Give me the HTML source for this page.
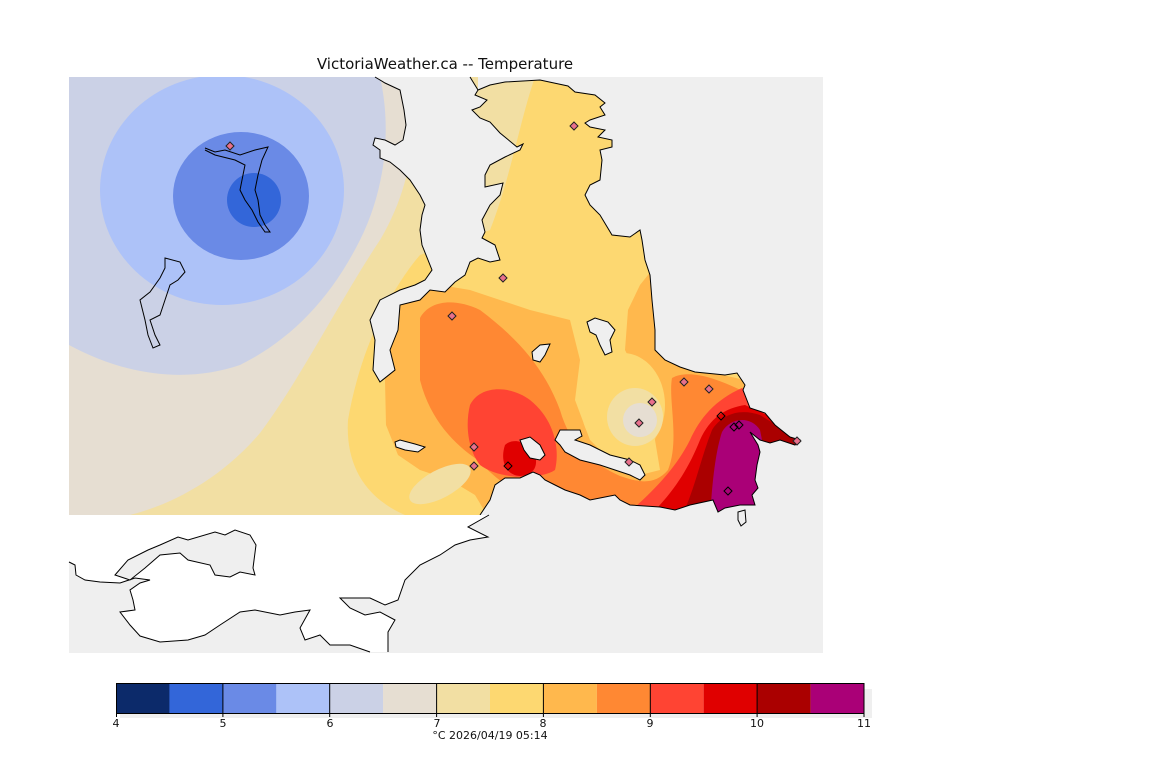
<!DOCTYPE html>
<html><head><meta charset="utf-8"><style>
html,body{margin:0;padding:0;background:#fff;}
svg{display:block;}
text{font-family:"DejaVu Sans","Liberation Sans",sans-serif;fill:#111;}
</style></head><body>
<svg width="1152" height="768" viewBox="0 0 1152 768" xmlns="http://www.w3.org/2000/svg">
<text x="445" y="69" font-size="15" text-anchor="middle">VictoriaWeather.ca -- Temperature</text>
<defs><clipPath id="c"><rect x="69" y="77" width="754" height="438"/></clipPath></defs>
<rect x="69" y="77" width="754" height="576" fill="#efefef"/>
<g clip-path="url(#c)">
<rect x="69" y="77" width="754" height="438" fill="#fdd871"/>
<path d="M69,77 L535,77 C520,120 510,180 490,230 L420,255 C390,290 360,350 348,420 C345,470 370,500 405,515 L69,515Z" fill="#f2dfa3"/>
<path d="M69,77 L410,77 C420,130 410,190 380,240 C340,300 300,380 260,433 C220,480 170,505 130,515 L69,515Z" fill="#e6ded2"/>
<path d="M69,77 L380,77 C392,130 385,190 360,240 C330,300 290,340 240,365 C190,382 130,378 69,345Z" fill="#cbd1e6"/>
<ellipse cx="222" cy="190" rx="122" ry="115" fill="#adc2f8"/>
<ellipse cx="241" cy="196" rx="68" ry="64" fill="#6a8ae6"/>
<circle cx="254" cy="200" r="27" fill="#3366d9"/>
<path d="M395,300 L440,285 L470,290 L530,310 L570,320 L580,360 L575,400 L590,440 L610,460 L640,475 L660,470 L655,440 L660,400 L640,380 L625,350 L628,310 L640,285 L652,270 L660,330 L670,355 L700,370 L745,380 L790,420 L790,520 L490,520 L475,495 L450,480 L420,470 L398,455 L386,425 L385,380 L388,330Z" fill="#ffb84d"/>
<ellipse cx="623" cy="405" rx="42" ry="52" fill="#fdd871"/>
<ellipse cx="635" cy="417" rx="28" ry="29" fill="#f2dfa3"/>
<circle cx="640" cy="420" r="17" fill="#e6ded2"/>
<ellipse cx="440" cy="484" rx="34" ry="14" transform="rotate(-28 440 484)" fill="#f2dfa3"/>
<path d="M420,318 C430,300 455,298 480,310 C520,340 545,370 560,410 C570,445 590,462 620,476 C640,483 655,485 668,470 C680,440 668,400 672,378 C690,368 720,380 745,392 L790,440 L780,520 L560,520 C530,500 500,485 478,460 C455,445 430,420 420,380Z" fill="#ff8833"/>
<path d="M470,405 C480,385 510,385 530,400 C555,420 560,450 555,470 C540,480 500,480 480,465 C468,450 465,425 470,405Z" fill="#ff4433"/>
<path d="M505,445 C512,438 528,440 535,455 C538,465 535,475 520,476 C505,475 500,460 505,445Z" fill="#e00000"/>
<path d="M790,520 L620,520 C650,495 675,470 690,440 C700,418 715,400 742,388 L800,420Z" fill="#ff4433"/>
<path d="M790,520 L645,520 C672,495 688,470 700,440 C710,418 725,408 745,405 L800,430Z" fill="#e00000"/>
<path d="M780,520 L680,520 C695,490 700,460 712,430 C722,414 740,408 760,415 L800,440Z" fill="#aa0000"/>
<path d="M765,520 L710,520 C712,480 716,450 722,432 C730,418 750,415 760,430 L768,470Z" fill="#aa0077"/>
</g>
<g fill="#efefef" stroke="none">
<path id="A" d="M375,77 L470,77 L478,90 L475,95 L487,100 L480,107 L472,110 L480,118 L490,122 L500,133 L517,147 L523,144 L520,150 L505,157 L490,165 L485,175 L485,187 L503,183 L500,195 L490,205 L482,220 L485,232 L482,238 L495,245 L500,260 L490,262 L478,258 L470,262 L465,275 L455,282 L445,292 L430,290 L420,300 L400,305 L398,330 L390,350 L395,370 L380,382 L373,370 L375,340 L370,320 L380,300 L400,290 L415,285 L425,280 L432,270 L422,245 L420,230 L422,215 L425,205 L420,195 L410,180 L400,170 L390,162 L380,158 L380,150 L373,145 L375,138 L385,140 L395,145 L403,140 L406,125 L404,110 L402,100 L400,90 L385,83Z"/>
<path d="M478,77 L478,90 L490,85 L505,82 L540,80 L568,86 L575,92 L595,95 L605,103 L600,107 L605,115 L590,120 L585,123 L590,127 L605,130 L598,137 L612,140 L612,147 L600,150 L602,160 L600,180 L590,185 L585,195 L590,205 L600,215 L612,235 L630,237 L640,230 L642,240 L645,260 L650,275 L652,300 L655,330 L655,350 L665,360 L680,367 L695,372 L725,375 L737,373 L745,385 L743,390 L750,408 L765,413 L775,425 L790,437 L800,440 L795,445 L780,440 L770,443 L760,440 L750,432 L758,445 L760,452 L757,465 L755,480 L758,488 L752,495 L755,505 L740,505 L725,508 L718,512 L713,500 L690,505 L675,510 L660,507 L630,505 L620,500 L615,495 L605,497 L590,500 L580,495 L565,490 L555,485 L545,480 L540,475 L533,472 L520,478 L505,478 L495,485 L490,500 L480,515 L823,515 L823,77Z"/>
</g>
<g fill="none" stroke="#000" stroke-width="1">
<path d="M470,77 L478,90 L475,95 L487,100 L480,107 L472,110 L480,118 L490,122 L500,133 L517,147 L523,144 L520,150 L505,157 L490,165 L485,175 L485,187 L503,183 L500,195 L490,205 L482,220 L485,232 L482,238 L495,245 L500,260 L490,262 L478,258 L470,262 L465,275 L455,282 L445,292 L430,290 L420,300 L400,305 L398,330 L390,350 L395,370 L380,382 L373,370 L375,340 L370,320 L380,300 L400,290 L415,285 L425,280 L432,270 L422,245 L420,230 L422,215 L425,205 L420,195 L410,180 L400,170 L390,162 L380,158 L380,150 L373,145 L375,138 L385,140 L395,145 L403,140 L406,125 L404,110 L402,100 L400,90 L385,83 L375,77"/>
<path d="M478,90 L490,85 L505,82 L540,80 L568,86 L575,92 L595,95 L605,103 L600,107 L605,115 L590,120 L585,123 L590,127 L605,130 L598,137 L612,140 L612,147 L600,150 L602,160 L600,180 L590,185 L585,195 L590,205 L600,215 L612,235 L630,237 L640,230 L642,240 L645,260 L650,275 L652,300 L655,330 L655,350 L665,360 L680,367 L695,372 L725,375 L737,373 L745,385 L743,390 L750,408 L765,413 L775,425 L790,437 L800,440 L795,445 L780,440 L770,443 L760,440 L750,432 L758,445 L760,452 L757,465 L755,480 L758,488 L752,495 L755,505 L740,505 L725,508 L718,512 L713,500 L690,505 L675,510 L660,507 L630,505 L620,500 L615,495 L605,497 L590,500 L580,495 L565,490 L555,485 L545,480 L540,475 L533,472 L520,478 L505,478 L495,485 L490,500 L480,515"/>
</g>
<g fill="#efefef" stroke="#000" stroke-width="1">
<path d="M560,430 L580,430 L582,436 L575,440 L590,445 L610,455 L630,460 L640,465 L645,475 L640,480 L630,475 L615,470 L600,465 L580,460 L565,452 L560,445 L555,440Z"/>
<path d="M520,440 L530,437 L540,445 L545,455 L540,460 L530,458 L524,450Z"/>
<path d="M587,322 L595,318 L608,322 L615,330 L610,340 L612,352 L605,355 L600,345 L596,335 L590,332Z"/>
<path d="M532,352 L540,345 L550,344 L545,355 L540,362 L533,360Z"/>
<path d="M395,442 L400,440 L415,444 L425,447 L418,452 L405,450 L396,447Z"/>
<path d="M738,512 L745,510 L746,522 L741,526 L738,520Z"/>
</g>
<g fill="none" stroke="#000" stroke-width="1">
<path d="M205,148 L215,152 L225,150 L240,155 L255,150 L268,147 L262,160 L258,175 L255,190 L258,200 L260,215 L265,225 L270,232 L265,232 L258,222 L252,210 L245,200 L240,190 L243,175 L245,165 L235,160 L215,155 L205,150"/>
<path d="M165,258 L180,262 L185,272 L178,280 L170,285 L165,300 L160,315 L150,320 L155,335 L160,345 L153,348 L148,335 L145,320 L140,300 L150,292 L160,278 L165,268Z"/>
</g>
<path d="M69,515 L489,515 L468,527 L488,537 L470,540 L455,545 L440,555 L420,565 L405,580 L398,600 L385,605 L370,598 L340,598 L350,608 L365,615 L380,612 L395,620 L388,632 L388,652 L370,652 L350,645 L330,645 L320,635 L305,640 L300,628 L310,610 L295,612 L280,615 L255,610 L240,612 L220,625 L205,635 L188,640 L160,642 L140,636 L130,625 L120,612 L135,610 L133,600 L130,590 L140,583 L150,580 L135,578 L120,583 L100,582 L85,580 L76,575 L75,565 L69,562Z" fill="#fff" stroke="none"/>
<path d="M489,515 L468,527 L488,537 L470,540 L455,545 L440,555 L420,565 L405,580 L398,600 L385,605 L370,598 L340,598 L350,608 L365,615 L380,612 L395,620 L388,632 L388,652 M370,652 L350,645 L330,645 L320,635 L305,640 L300,628 L310,610 L295,612 L280,615 L255,610 L240,612 L220,625 L205,635 L188,640 L160,642 L140,636 L130,625 L120,612 L135,610 L133,600 L130,590 L140,583 L150,580 L135,578 L120,583 L100,582 L85,580 L76,575 L75,565 L69,562" fill="none" stroke="#000" stroke-width="1"/>
<path d="M115,575 L128,560 L148,550 L160,545 L178,537 L188,540 L215,532 L225,535 L235,530 L250,535 L256,545 L253,568 L255,575 L240,572 L230,577 L215,575 L210,565 L188,560 L180,553 L160,555 L145,568 L130,580Z" fill="#efefef" stroke="#000" stroke-width="1"/>
<g stroke="#222" stroke-width="1">
<g fill="#e8708c">
<path d="M230,142 l4,4 -4,4 -4,-4z"/><path d="M574,122 l4,4 -4,4 -4,-4z"/><path d="M503,274 l4,4 -4,4 -4,-4z"/><path d="M452,312 l4,4 -4,4 -4,-4z"/><path d="M684,378 l4,4 -4,4 -4,-4z"/><path d="M709,385 l4,4 -4,4 -4,-4z"/><path d="M652,398 l4,4 -4,4 -4,-4z"/><path d="M639,419 l4,4 -4,4 -4,-4z"/><path d="M474,443 l4,4 -4,4 -4,-4z"/><path d="M474,462 l4,4 -4,4 -4,-4z"/><path d="M629,458 l4,4 -4,4 -4,-4z"/><path d="M797,437 l4,4 -4,4 -4,-4z"/>
</g>
<g fill="none" stroke="#000">
<path d="M508,462 l4,4 -4,4 -4,-4z"/><path d="M721,412 l4,4 -4,4 -4,-4z"/><path d="M734,423 l4,4 -4,4 -4,-4z"/><path d="M739,421 l4,4 -4,4 -4,-4z"/><path d="M728,487 l4,4 -4,4 -4,-4z"/>
</g></g>
<rect x="120" y="689" width="752" height="29" fill="#efefef"/>
<g>
<rect x="116" y="683" width="53.5" height="30" fill="#0c2a6a"/>
<rect x="169.4" y="683" width="53.5" height="30" fill="#3366d9"/>
<rect x="222.9" y="683" width="53.5" height="30" fill="#6a8ae6"/>
<rect x="276.3" y="683" width="53.5" height="30" fill="#adc2f8"/>
<rect x="329.7" y="683" width="53.5" height="30" fill="#cbd1e6"/>
<rect x="383.1" y="683" width="53.5" height="30" fill="#e6ded2"/>
<rect x="436.6" y="683" width="53.5" height="30" fill="#f2dfa3"/>
<rect x="490" y="683" width="53.5" height="30" fill="#fdd871"/>
<rect x="543.4" y="683" width="53.5" height="30" fill="#ffb84d"/>
<rect x="596.9" y="683" width="53.5" height="30" fill="#ff8833"/>
<rect x="650.3" y="683" width="53.5" height="30" fill="#ff4433"/>
<rect x="703.7" y="683" width="53.5" height="30" fill="#e00000"/>
<rect x="757.1" y="683" width="53.5" height="30" fill="#aa0000"/>
<rect x="810.6" y="683" width="53.4" height="30" fill="#aa0077"/>
</g>
<g stroke="#000" stroke-width="1" fill="none">
<rect x="116.5" y="683.5" width="747.5" height="30"/>
<path d="M222.9,683v34 M329.7,683v34 M436.6,683v34 M543.4,683v34 M650.3,683v34 M757.1,683v34 M116.5,683v34 M864,683v34"/>
</g>
<g font-size="11" text-anchor="middle">
<text x="116" y="727">4</text><text x="223" y="727">5</text><text x="330" y="727">6</text><text x="437" y="727">7</text><text x="543" y="727">8</text><text x="650" y="727">9</text><text x="757" y="727">10</text><text x="864" y="727">11</text>
<text x="490" y="739">°C  2026/04/19 05:14</text>
</g>
</svg>
</body></html>
